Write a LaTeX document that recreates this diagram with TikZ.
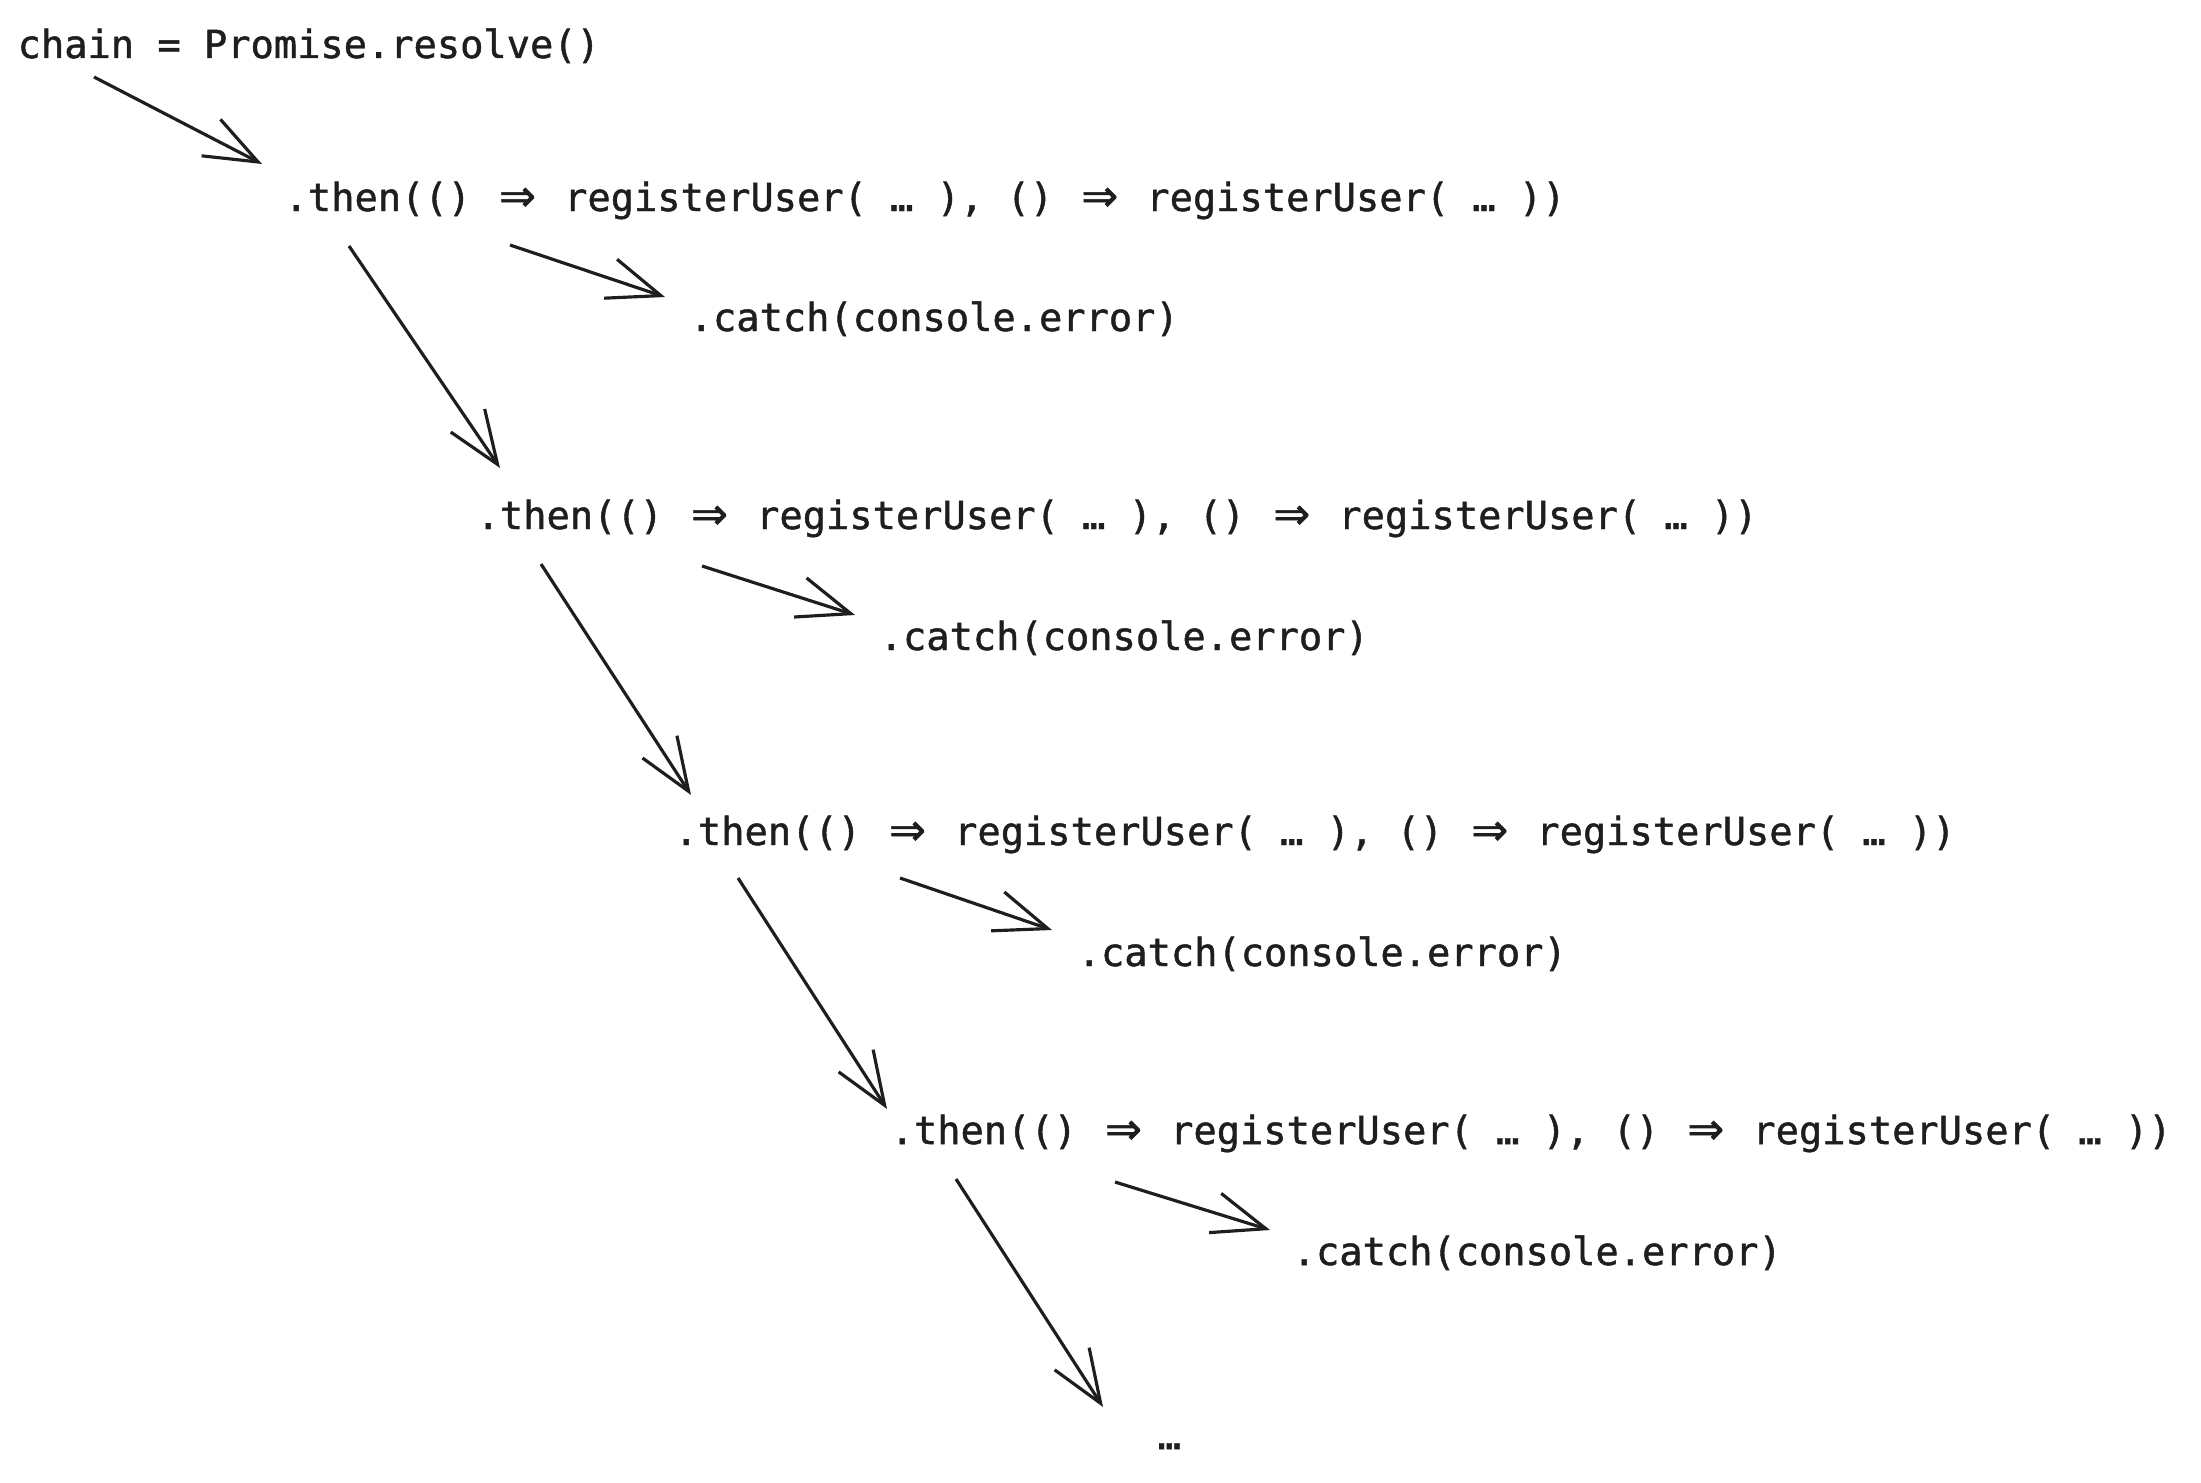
\documentclass[tikz,border=0pt]{standalone}
\usepackage{fontspec}
\usepackage{xcolor}
\usepackage{tikz}
\usetikzlibrary{arrows.meta}

\newfontfamily\codefont[FakeBold=1.2]{DejaVu Sans Mono}
\newfontfamily\arrowfont[FakeBold=1.2]{DejaVu Sans}
\definecolor{ink}{HTML}{1E1E1E}
\newcommand{\impl}{\makebox[1.204em]{\arrowfont\fontsize{12.5}{13}\selectfont ⇒}}
\newcommand{\thenline}{.then(() \impl{} registerUser( … ), () \impl{} registerUser( … ))}

\begin{document}
\begin{tikzpicture}[
        x=0.01cm, y=-0.01cm,
        code/.style={anchor=base west, inner sep=0pt, text=ink, font=\codefont\fontsize{11}{13}\selectfont},
        arrow/.style={-{Straight Barb[length=5.3mm, width=4.1mm]}, line width=0.9pt, draw=ink}
    ]
    \useasboundingbox (0, 0) rectangle (2201, 1482);

    \node (chain) at (17, 58) [code] {chain = Promise.resolve()};

    \node (then1) at (284, 211) [code] {\thenline};
    \node (catch1) at (689, 331) [code] {.catch(console.error)};

    \node (then2) at (476, 529) [code] {\thenline};
    \node (catch2) at (879, 650) [code] {.catch(console.error)};

    \node (then3) at (674, 845) [code] {\thenline};
    \node (catch3) at (1077, 966) [code] {.catch(console.error)};

    \node (then4) at (890, 1144) [code] {\thenline};
    \node (catch4) at (1292, 1265) [code] {.catch(console.error)};

    \node (more) at (1157, 1449) [code] {…};

    \draw [arrow] ([shift={(77,19)}]chain.base west) -- ([shift={(-22,-47)}]then1.base west);

    \draw [arrow] ([shift={(65,35)}]then1.base west) -- ([shift={(24,-61)}]then2.base west);
    \draw [arrow] ([shift={(226,34)}]then1.base west) -- ([shift={(-24,-34)}]catch1.base west);

    \draw [arrow] ([shift={(65,35)}]then2.base west) -- ([shift={(17,-50)}]then3.base west);
    \draw [arrow] ([shift={(226,37)}]then2.base west) -- ([shift={(-24,-35)}]catch2.base west);

    \draw [arrow] ([shift={(64,33)}]then3.base west) -- ([shift={(-3,-35)}]then4.base west);
    \draw [arrow] ([shift={(226,33)}]then3.base west) -- ([shift={(-25,-36)}]catch3.base west);

    \draw [arrow] ([shift={(66,35)}]then4.base west) -- ([shift={(-54,-42)}]more.base west);
    \draw [arrow] ([shift={(225,38)}]then4.base west) -- ([shift={(-22,-35)}]catch4.base west);

    \end{tikzpicture}
\end{document}
